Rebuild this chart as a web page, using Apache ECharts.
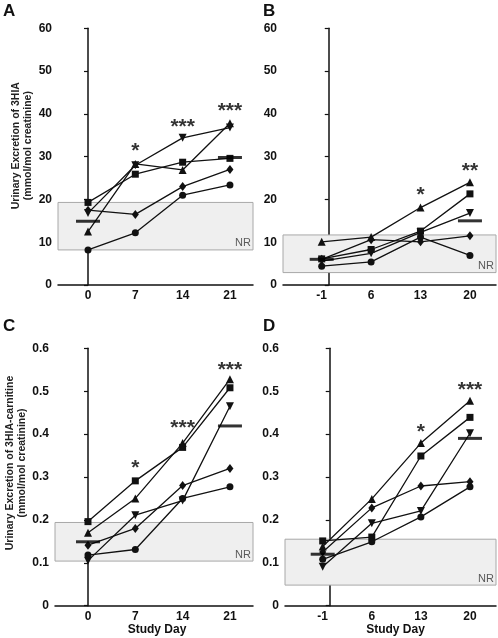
<!DOCTYPE html>
<html>
<head>
<meta charset="utf-8">
<script src="https://cdn.jsdelivr.net/npm/echarts@6/dist/echarts.min.js"></script>
<style>
html,body{margin:0;padding:0;background:#fff;}
#chart{width:498px;height:638px;}
</style>
</head>
<body>
<div id="chart"></div>
<script>
// ---------- data ----------
const daysA = [0, 7, 14, 21];
const daysB = [-1, 6, 13, 20];
const yTicksTop = [0, 10, 20, 30, 40, 50, 60];
const yTicksBottom = [0, 0.1, 0.2, 0.3, 0.4, 0.5, 0.6];

// Panel A: 3HIA, period 1
const A_square   = [19.3, 25.9, 28.7, 29.6];
const A_triUp    = [12.5, 28.3, 26.9, 37.8];
const A_triDown  = [16.8, 28.0, 34.4, 36.8];
const A_diamond  = [17.5, 16.5, 23.0, 27.0];
const A_circle   = [8.2, 12.2, 21.0, 23.4];
const A_meanDays = [0, 21];
const A_mean     = [14.9, 29.8];
const A_nr       = [8.2, 19.3];
const A_starDays = [7, 14, 21];
const A_starVals = [32.5, 38.1, 41.7];
const A_stars    = ['*', '***', '***'];

// Panel B: 3HIA, period 2
const B_square   = [6.1, 8.3, 12.6, 21.3];
const B_triUp    = [10.1, 11.2, 18.1, 24.0];
const B_triDown  = [5.6, 7.4, 12.3, 16.8];
const B_diamond  = [6.0, 10.6, 10.1, 11.5];
const B_circle   = [4.4, 5.4, 11.2, 6.9];
const B_meanDays = [-1, 20];
const B_mean     = [6.0, 15.0];
const B_nr       = [2.9, 11.7];
const B_starDays = [13, 20];
const B_starVals = [22.2, 27.8];
const B_stars    = ['*', '**'];

// Panel C: 3HIA-carnitine, period 1
const C_square   = [0.196, 0.291, 0.369, 0.508];
const C_triUp    = [0.170, 0.250, 0.379, 0.528];
const C_triDown  = [0.105, 0.211, 0.245, 0.465];
const C_diamond  = [0.141, 0.180, 0.280, 0.320];
const C_circle   = [0.118, 0.131, 0.250, 0.277];
const C_meanDays = [0, 21];
const C_mean     = [0.149, 0.419];
const C_nr       = [0.104, 0.194];
const C_starDays = [7, 14, 21];
const C_starVals = [0.333, 0.425, 0.561];
const C_stars    = ['*', '***', '***'];

// Panel D: 3HIA-carnitine, period 2
const D_square   = [0.151, 0.160, 0.349, 0.439];
const D_triUp    = [0.138, 0.249, 0.379, 0.478];
const D_triDown  = [0.091, 0.192, 0.221, 0.402];
const D_diamond  = [0.125, 0.228, 0.279, 0.289];
const D_circle   = [0.108, 0.149, 0.207, 0.277];
const D_meanDays = [-1, 20];
const D_mean     = [0.120, 0.390];
const D_nr       = [0.048, 0.155];
const D_starDays = [13, 20];
const D_starVals = [0.417, 0.514];
const D_stars    = ['*', '***'];

const panelLetters = ['A', 'B', 'C', 'D'];
const yNameTop = 'Urinary Excretion of 3HIA\n(mmol/mol creatinine)';
const yNameBottom = 'Urinary Excretion of 3HIA-carnitine\n(mmol/mol creatinine)';
const xName = 'Study Day';
const nrLabel = 'NR';

// ---------- build ----------
const FONT = 'Liberation Sans, Arial, Helvetica, sans-serif';
const grids = [
  {left: 58,  top: 28.3,  width: 195, height: 256.7},
  {left: 283, top: 28.3,  width: 213, height: 256.7},
  {left: 55,  top: 348.3, width: 198, height: 257.4},
  {left: 285, top: 348.3, width: 211, height: 257.4}
];
const xRanges = [[-4.44, 24.41], [-6.48, 23.69], [-4.88, 24.41], [-6.375, 23.71]];

const panels = [
  {days: daysA, s: [A_square, A_triUp, A_triDown, A_diamond, A_circle], meanDays: A_meanDays, mean: A_mean, nr: A_nr, starDays: A_starDays, starVals: A_starVals, stars: A_stars, yTicks: yTicksTop, yName: yNameTop, xName: '', namePad: 22},
  {days: daysB, s: [B_square, B_triUp, B_triDown, B_diamond, B_circle], meanDays: B_meanDays, mean: B_mean, nr: B_nr, starDays: B_starDays, starVals: B_starVals, stars: B_stars, yTicks: yTicksTop, yName: '', xName: ''},
  {days: daysA, s: [C_square, C_triUp, C_triDown, C_diamond, C_circle], meanDays: C_meanDays, mean: C_mean, nr: C_nr, starDays: C_starDays, starVals: C_starVals, stars: C_stars, yTicks: yTicksBottom, yName: yNameBottom, xName: xName, namePad: 28},
  {days: daysB, s: [D_square, D_triUp, D_triDown, D_diamond, D_circle], meanDays: D_meanDays, mean: D_mean, nr: D_nr, starDays: D_starDays, starVals: D_starVals, stars: D_stars, yTicks: yTicksBottom, yName: '', xName: xName}
];

const markerDefs = [
  {symbol: 'rect', size: 7, rotate: 0},
  {symbol: 'triangle', size: 8, rotate: 0},
  {symbol: 'triangle', size: 8, rotate: 180},
  {symbol: 'diamond', size: [7, 9], rotate: 0},
  {symbol: 'circle', size: 7, rotate: 0}
];

const xAxes = [], yAxes = [], series = [], titles = [];
const titlePos = [[3, 3], [263, 3], [3, 318], [263, 318]];

panels.forEach((p, i) => {
  const yMax = p.yTicks[p.yTicks.length - 1];
  xAxes.push({
    type: 'value', gridIndex: i, min: xRanges[i][0], max: xRanges[i][1],
    splitLine: {show: false},
    axisLine: {lineStyle: {color: '#111', width: 1.5}},
    axisTick: {show: false},
    axisLabel: {customValues: p.days, fontFamily: FONT, fontWeight: 'bold', fontSize: 12, color: '#111', margin: 5},
    name: p.xName, nameLocation: 'middle', nameGap: 18,
    nameTextStyle: {fontFamily: FONT, fontWeight: 'bold', fontSize: 12, color: '#111', padding: [0, 0, 0, i === 3 ? 10 : 6]}
  });
  yAxes.push({
    type: 'value', gridIndex: i, min: 0, max: yMax, interval: p.yTicks[1],
    splitLine: {show: false},
    axisLine: {show: true, lineStyle: {color: '#111', width: 1.5}},
    axisTick: {show: true, length: 4, lineStyle: {color: '#111', width: 1.2}},
    axisLabel: {fontFamily: FONT, fontWeight: 'bold', fontSize: 12, color: '#111', margin: 6},
    name: p.yName, nameLocation: 'middle', nameGap: 13, nameRotate: 90,
    nameTextStyle: {fontFamily: FONT, fontWeight: 'bold', fontSize: 10.5, color: '#222', lineHeight: 12.5, align: 'center', padding: [0, 0, 0, p.namePad || 0]}
  });
  // NR band
  series.push({
    type: 'line', xAxisIndex: i, yAxisIndex: i, data: [], z: 1, silent: true,
    markArea: {
      silent: true,
      itemStyle: {color: '#efefef', borderColor: '#a8a8a8', borderWidth: 1},
      label: {show: false},
      data: [[{xAxis: 'min', yAxis: p.nr[0]}, {xAxis: 'max', yAxis: p.nr[1]}]]
    }
  });
  // NR label, anchored at the band's lower right corner
  series.push({
    type: 'scatter', xAxisIndex: i, yAxisIndex: i, z: 2, silent: true,
    data: [{value: [xRanges[i][1], p.nr[0]], text: nrLabel}],
    symbolSize: 0,
    label: {show: true, position: 'inside', align: 'right', verticalAlign: 'bottom', offset: [-2, -1],
      formatter: q => q.data.text, fontFamily: FONT, fontSize: 11, color: '#333'},
    animation: false
  });
  // subjects
  p.s.forEach((vals, k) => {
    const m = markerDefs[k];
    series.push({
      type: 'line', xAxisIndex: i, yAxisIndex: i, z: 3,
      data: vals.map((v, j) => [p.days[j], v]),
      symbol: m.symbol, symbolSize: m.size, symbolRotate: m.rotate, showSymbol: true,
      lineStyle: {color: '#111', width: 1.3},
      itemStyle: {color: '#111', borderWidth: 0},
      animation: false
    });
  });
  // mean bars
  series.push({
    type: 'scatter', xAxisIndex: i, yAxisIndex: i, z: 4,
    data: p.meanDays.map((d, j) => [d, p.mean[j]]),
    symbol: 'rect', symbolSize: [24, 3], itemStyle: {color: '#000'}, animation: false
  });
  // significance stars
  series.push({
    type: 'scatter', xAxisIndex: i, yAxisIndex: i, z: 5,
    data: p.starDays.map((d, j) => ({value: [d, p.starVals[j]], text: p.stars[j]})),
    symbolSize: 0,
    label: {show: true, position: 'inside', formatter: q => q.data.text, fontFamily: FONT, fontWeight: 'bold', fontSize: 21, color: '#000', offset: [0, 5]},
    animation: false
  });
  titles.push({text: panelLetters[i], left: titlePos[i][0], top: titlePos[i][1], padding: 0,
    textStyle: {fontFamily: FONT, fontWeight: 'bold', fontSize: 17, color: '#111'}});
});

const chart = echarts.init(document.getElementById('chart'), null, {renderer: 'canvas'});
chart.setOption({
  backgroundColor: '#fff',
  animation: false,
  title: titles,
  grid: grids,
  xAxis: xAxes,
  yAxis: yAxes,
  series: series
});
</script>
</body>
</html>
